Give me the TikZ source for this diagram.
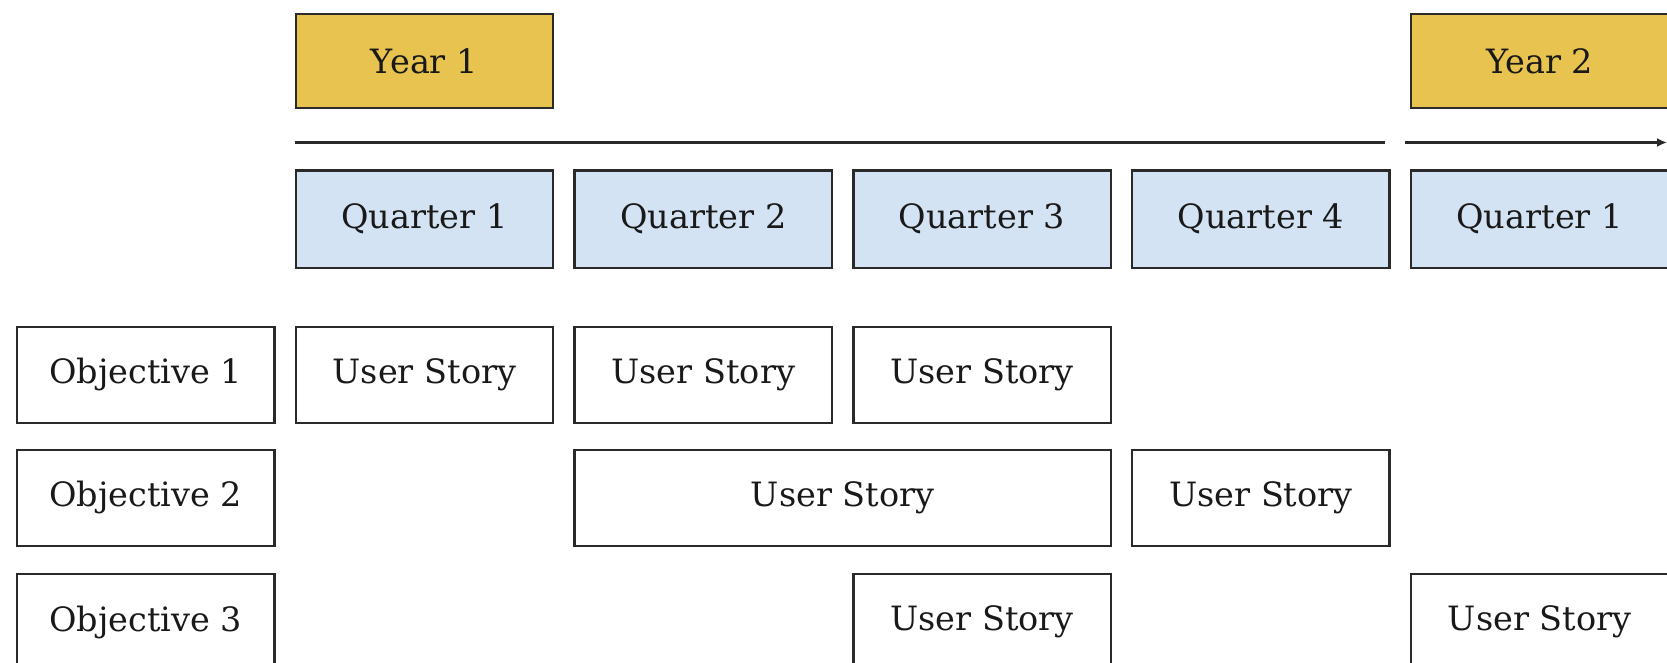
\documentclass[tikz,border=0pt]{standalone}
\usepackage{fontspec}
\setmainfont{DejaVu Serif}
\usetikzlibrary{arrows.meta}
\definecolor{yearfill}{HTML}{E9C34F}
\definecolor{quarterfill}{HTML}{D4E3F3}
\definecolor{edge}{HTML}{2A2A2A}
\begin{document}
\begin{tikzpicture}[x=1pt,y=-1pt,
  cell/.style={draw=edge,line width=2.4pt,anchor=north west,minimum width=257.5pt,
    minimum height=96pt,inner sep=0pt,font=\fontsize{33.5}{40}\selectfont,text=black!90},
  yearbox/.style={cell,fill=yearfill,minimum height=94pt},
  quarterbox/.style={cell,fill=quarterfill,minimum height=97pt},
  timeline/.style={draw=edge,line width=2.4pt}]
\useasboundingbox (0,0) rectangle (1667,663);
% year headers
\node[yearbox] (y1) at (294.5,13) {Year 1};
\node[yearbox] (y2) at (1409.7,13) {Year 2};
% timeline
\coordinate (ta) at (294.5,142.5);
\coordinate (tb) at (1385,142.5);
\coordinate (tc) at (1405,142.5);
\coordinate (td) at (1667,142.5);
\draw[timeline] (ta) -- (tb);
\draw[timeline,-{Latex[length=10pt,width=9pt]}] (tc) -- (td);
% quarters
\node[quarterbox] (q1) at (294.5,169.5) {Quarter 1};
\node[quarterbox] (q2) at (573.3,169.5) {Quarter 2};
\node[quarterbox] (q3) at (852.1,169.5) {Quarter 3};
\node[quarterbox] (q4) at (1130.9,169.5) {Quarter 4};
\node[quarterbox] (q5) at (1409.7,169.5) {Quarter 1};
% objectives
\node[cell] (o1) at (15.7,325.5) {Objective 1};
\node[cell] (o2) at (15.7,448.5) {Objective 2};
\node[cell] (o3) at (15.7,573) {Objective 3};
% user stories
\node[cell] (s11) at (294.5,325.5) {User Story};
\node[cell] (s12) at (573.3,325.5) {User Story};
\node[cell] (s13) at (852.1,325.5) {User Story};
\node[cell,minimum width=536.3pt] (s21) at (573.3,448.5) {User Story};
\node[cell] (s22) at (1130.9,448.5) {User Story};
\node[cell] (s31) at (852.1,573) {User Story};
\node[cell] (s32) at (1409.7,573) {User Story};
\end{tikzpicture}
\end{document}
